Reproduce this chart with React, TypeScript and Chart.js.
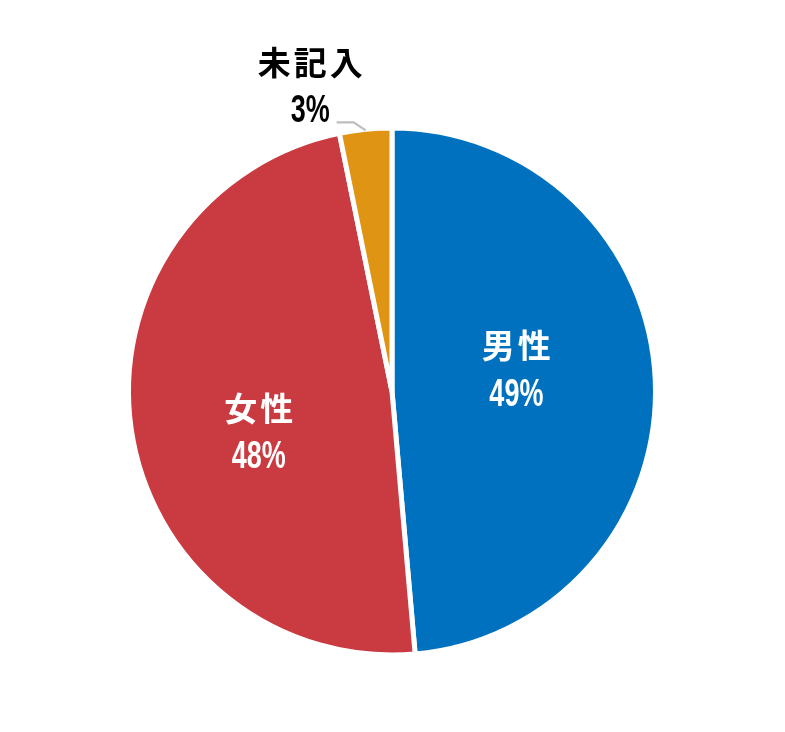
import React, { useEffect, useRef } from "react";
import { Chart, registerables } from "chart.js";

Chart.register(...registerables);

const categories = ["男性", "女性", "未記入"];
const values = [48.6, 48.2, 3.2];
const percentLabels = ["49%", "48%", "3%"];
const colors = ["#0071BE", "#C93A41", "#DF9413"];

// label block offsets relative to pie center, as a fraction of radius
const labelOffsets = [
  { dx: 0.472, dy: -0.086, color: "#FFFFFF" },
  { dx: -0.506, dy: 0.152, color: "#FFFFFF" },
  { dx: -0.31, dy: -1.162, color: "#000000" },
];

function drawSpaced(ctx: CanvasRenderingContext2D, text: string, cx: number, cy: number, spacing: number) {
  const chars = Array.from(text);
  const widths = chars.map((c) => ctx.measureText(c).width);
  const total = widths.reduce((a, b) => a + b, 0) + spacing * (chars.length - 1);
  let x = cx - total / 2;
  ctx.textAlign = "left";
  chars.forEach((c, i) => {
    ctx.fillText(c, x, cy);
    x += widths[i] + spacing;
  });
}

const labelPlugin = {
  id: "pieLabels",
  afterDraw(chart: any) {
    const meta = chart.getDatasetMeta(0);
    const ctx: CanvasRenderingContext2D = chart.ctx;
    const first = meta.data[0];
    const cx = first.x;
    const cy = first.y;
    const R = first.outerRadius;
    ctx.save();
    // leader line for small slice
    const small = meta.data[2];
    const mid = (small.startAngle + small.endAngle) / 2;
    const ex = cx + Math.cos(mid) * (R - 1);
    const ey = cy + Math.sin(mid) * (R - 1);
    ctx.strokeStyle = "#BDBDBD";
    ctx.lineWidth = 2.2;
    ctx.beginPath();
    ctx.moveTo(ex, ey);
    ctx.lineTo(ex - 12, ey - 8);
    ctx.lineTo(ex - 29, ey - 8);
    ctx.stroke();

    labelOffsets.forEach((o, i) => {
      const bx = cx + o.dx * R;
      const by = cy + o.dy * R;
      ctx.fillStyle = o.color;
      ctx.font = 'bold 33px "Noto Sans CJK JP"';
      ctx.textBaseline = "middle";
      drawSpaced(ctx, categories[i], bx, by - 23, 3);
      ctx.save();
      ctx.font = 'bold 38px "Liberation Sans"';
      ctx.textBaseline = "alphabetic";
      ctx.textAlign = "center";
      const sx = 0.71;
      ctx.translate(bx, by + 23 + 38 * 0.364);
      ctx.scale(sx, 1);
      ctx.fillText(percentLabels[i], 0, 0);
      ctx.restore();
    });
    ctx.restore();
  },
};

export default function App() {
  const ref = useRef<HTMLCanvasElement>(null);
  useEffect(() => {
    if (!ref.current) return;
    const chart = new Chart(ref.current, {
      type: "pie",
      data: {
        labels: categories,
        datasets: [
          {
            data: values,
            backgroundColor: colors,
            borderColor: "#FFFFFF",
            borderWidth: 5,
          },
        ],
      },
      options: {
        responsive: false,
        animation: false,
        events: [],
        layout: { padding: { left: 126, right: 127, top: 125, bottom: 74 } },
        plugins: {
          legend: { display: false },
          tooltip: { enabled: false },
        },
      },
      plugins: [labelPlugin],
    });
    return () => chart.destroy();
  }, []);
  return (
    <div style={{ position: "absolute", left: 0, top: 0, width: 785, height: 732, background: "#fff" }}>
      <canvas ref={ref} width={785} height={732} />
    </div>
  );
}
